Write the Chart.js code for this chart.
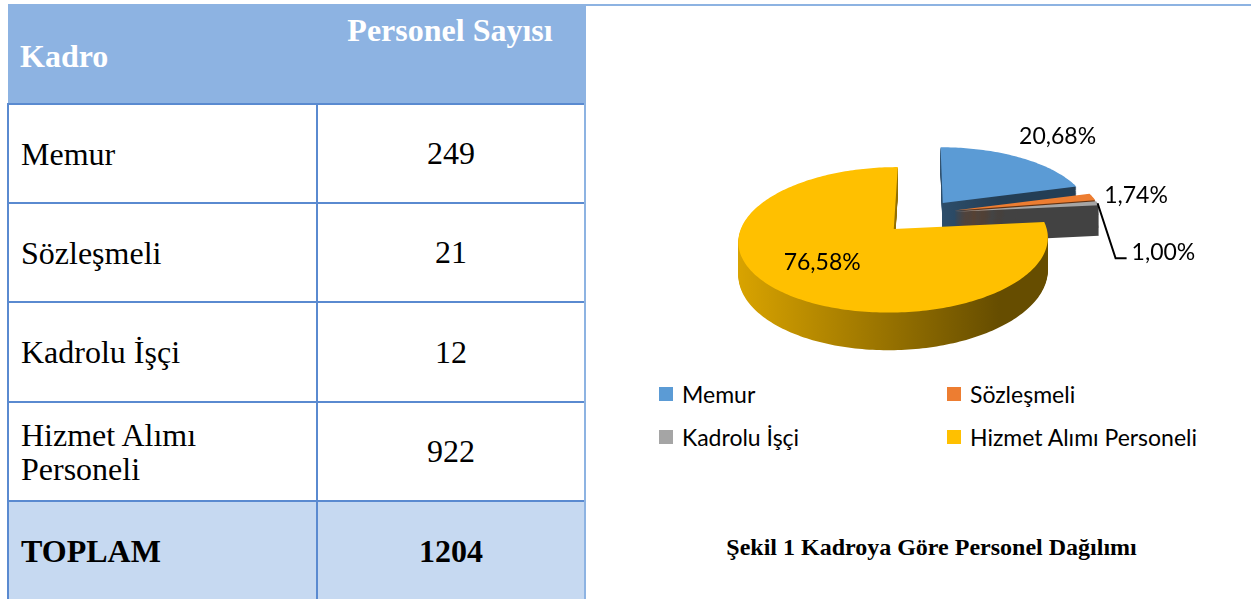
<!DOCTYPE html>
<html lang="tr">
<head>
<meta charset="utf-8">
<title>Kadroya Göre Personel Dağılımı</title>
<script src="https://cdn.jsdelivr.net/npm/chart.js@4.4.1/dist/chart.umd.min.js"></script>
<style>
    html, body { margin: 0; padding: 0; background: #fff; }
    body { width: 1251px; height: 599px; position: relative; overflow: hidden; }

    /* left: table */
    .tbl-head {
        position: absolute; left: 8px; top: 4px; width: 576px; height: 100px;
        background: #8DB3E2; color: #fff;
        font: bold 32px 'Liberation Serif', 'Times New Roman', serif;
    }
    .tbl-head .h1 { position: absolute; left: 12px; top: 34px; line-height: 37px; }
    .tbl-head .h2 { position: absolute; left: 308px; width: 268px; top: 8px; line-height: 37px; text-align: center; }
    .tbl-body {
        position: absolute; left: 7px; top: 103px;
        display: grid; grid-template-columns: 307px 266px;
        grid-template-rows: 97px 97px 98px 97px 98px;
        gap: 2px; padding: 2px; background: #5A8AD0;
        font: 32px 'Liberation Serif', 'Times New Roman', serif; color: #000;
    }
    .tbl-body div { background: #fff; display: flex; align-items: center; }
    .tbl-body .name { padding-left: 12px; line-height: 34px; }
    .tbl-body .num { justify-content: center; }
    .tbl-body .total { background: #C6D9F1; font-weight: bold; }

    /* right: chart panel */
    .panel {
        position: absolute; left: 584px; top: 4px; right: 0; bottom: 0;
        border-top: 2px solid #8DB3E2; border-left: 2px solid #8DB3E2;
    }
    #pieWrap { position: absolute; left: 585px; top: 100px; width: 666px; height: 270px; }
    .legend {
        position: absolute; left: 659px; top: 372px;
        display: grid; grid-template-columns: 288px auto; grid-auto-rows: 43px;
        font: 23px Lato, 'Open Sans', sans-serif; color: #000;
    }
    .legend span { display: flex; align-items: center; }
    .legend i { display: inline-block; width: 14px; height: 14px; margin-right: 9px; }
    .caption {
        position: absolute; left: 631px; width: 601px; top: 534px;
        text-align: center; line-height: 28px;
        font: bold 24px 'Liberation Serif', 'Times New Roman', serif; color: #000;
    }
</style>
</head>
<body>

<div class="tbl-head"><span class="h1">Kadro</span><span class="h2">Personel Sayısı</span></div>
<div class="tbl-body" id="tblBody"></div>

<div class="panel"></div>
<div id="pieWrap"><canvas id="pieChart" width="666" height="270"></canvas></div>
<div class="legend" id="legend"></div>
<div class="caption">Şekil 1 Kadroya Göre Personel Dağılımı</div>

<script>
const categories = ['Memur', 'Sözleşmeli', 'Kadrolu İşçi', 'Hizmet Alımı Personeli'];
const counts = [249, 21, 12, 922];
const sliceColors = ['#5B9BD5', '#ED7D31', '#A5A5A5', '#FFC000'];
const explode = [30, 30, 30, 45];

const total = counts.reduce((a, b) => a + b, 0);

// table rows
const body = document.getElementById('tblBody');
categories.forEach((name, i) => {
    body.insertAdjacentHTML('beforeend',
        `<div class="name">${name}</div><div class="num">${counts[i]}</div>`);
});
body.insertAdjacentHTML('beforeend',
    `<div class="name total">TOPLAM</div><div class="num total">${total}</div>`);

// legend
const legend = document.getElementById('legend');
categories.forEach((name, i) => {
    legend.insertAdjacentHTML('beforeend', `<span><i style="background:${sliceColors[i]}"></i>${name}</span>`);
});

// 3d look: simple perspective projection of the flat pie laid out by Chart.js
const VIEW = { dist: 1028, tilt: 0.45, depth: 31 };

function shade(hex, f) {
    const n = parseInt(hex.slice(1), 16);
    const r = Math.round(((n >> 16) & 255) * f);
    const g = Math.round(((n >> 8) & 255) * f);
    const b = Math.round((n & 255) * f);
    return `rgb(${r},${g},${b})`;
}

function geometry(chart) {
    const area = chart.chartArea;
    const cx = (area.left + area.right) / 2;
    const cy = (area.top + area.bottom) / 2;
    const proj = (X, Z, h) => {
        const s = VIEW.dist / (VIEW.dist - Z);
        return [cx + X * s, cy + (Z * VIEW.tilt + h) * s];
    };
    const slices = chart.getDatasetMeta(0).data.map((arc, i) => {
        const p = arc.getProps(['x', 'y', 'startAngle', 'endAngle', 'outerRadius'], true);
        const mid = (p.startAngle + p.endAngle) / 2;
        const off = arc.options.offset || 0;
        return {
            i, mid, start: p.startAngle, end: p.endAngle, r: p.outerRadius,
            ox: p.x - cx + Math.cos(mid) * off,
            oz: p.y - cy + Math.sin(mid) * off,
            color: arc.options.backgroundColor,
        };
    });
    return { cx, cy, proj, slices };
}

function slicePath(ctx, g, h, proj) {
    ctx.beginPath();
    let [x, y] = proj(g.ox, g.oz, h);
    ctx.moveTo(x, y);
    const steps = Math.max(2, Math.ceil((g.end - g.start) / 0.02));
    for (let k = 0; k <= steps; k++) {
        const a = g.start + (g.end - g.start) * k / steps;
        [x, y] = proj(g.ox + g.r * Math.cos(a), g.oz + g.r * Math.sin(a), h);
        ctx.lineTo(x, y);
    }
    ctx.closePath();
}

const pie3d = {
    id: 'pie3d',
    beforeDatasetsDraw(chart) {
        const ctx = chart.ctx;
        const { cx, proj, slices } = geometry(chart);
        const order = slices.slice().sort((a, b) =>
            (a.oz + Math.sin(a.mid) * a.r / 2) - (b.oz + Math.sin(b.mid) * b.r / 2));

        ctx.save();
        order.forEach((g) => {
            const grad = ctx.createLinearGradient(cx - g.r * 1.3, 0, cx + g.r * 0.5, 0);
            grad.addColorStop(0, shade(g.color, 0.86));
            grad.addColorStop(1, shade(g.color, 0.4));
            ctx.fillStyle = grad;
            for (let h = VIEW.depth; h >= 1; h--) {
                slicePath(ctx, g, h, proj);
                ctx.fill();
            }
            ctx.fillStyle = g.color;
            slicePath(ctx, g, 0, proj);
            ctx.fill();
        });
        ctx.restore();
        return false;
    },
};

// label placement: k = distance along the slice bisector (x radius), dx/dy nudges
const labelPlace = [
    { k: 1.5, dx: 5, dy: -1 },
    { k: 1.1, dx: 30, dy: 0 },
    { k: 1.0, leader: true },
    { k: 0.62, dx: -1, dy: -2 },
];

const pieLabels = {
    id: 'pieLabels',
    afterDraw(chart) {
        const ctx = chart.ctx;
        const { proj, slices } = geometry(chart);
        ctx.save();
        ctx.font = '23px Lato, "Open Sans", sans-serif';
        ctx.fillStyle = '#000';
        ctx.textBaseline = 'middle';
        slices.forEach((g) => {
            const pl = labelPlace[g.i];
            const text = (counts[g.i] / total * 100).toFixed(2).replace('.', ',') + '%';
            const [ax, ay] = proj(g.ox + Math.cos(g.mid) * g.r * pl.k, g.oz + Math.sin(g.mid) * g.r * pl.k, 0);
            if (pl.leader) {
                const bx = ax + 18, by = ay + 55;
                ctx.strokeStyle = '#000';
                ctx.lineWidth = 2;
                ctx.beginPath();
                ctx.moveTo(ax, ay);
                ctx.lineTo(bx, by);
                ctx.lineTo(bx + 11, by);
                ctx.stroke();
                ctx.textAlign = 'left';
                ctx.fillText(text, bx + 16, by - 6);
            } else {
                ctx.textAlign = 'center';
                ctx.fillText(text, ax + pl.dx, ay + pl.dy);
            }
        });
        ctx.restore();
    },
};

new Chart(document.getElementById('pieChart'), {
    type: 'pie',
    data: {
        labels: categories,
        datasets: [{
            data: counts,
            backgroundColor: sliceColors,
            offset: explode,
            borderWidth: 0,
        }],
    },
    options: {
        responsive: false,
        animation: false,
        radius: 148,
        layout: { padding: { left: 14, right: 0, top: 0, bottom: 43 } },
        plugins: { legend: { display: false }, tooltip: { enabled: false } },
    },
    plugins: [pie3d, pieLabels],
});
</script>
</body>
</html>
